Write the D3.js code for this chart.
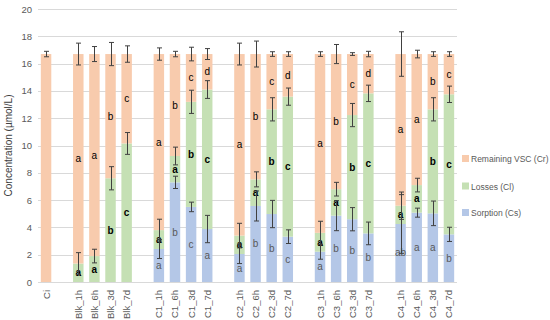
<!DOCTYPE html>
<html>
<head>
<meta charset="utf-8">
<script src="https://cdn.jsdelivr.net/npm/d3@7"></script>
<style>
  body { margin: 0; background: #fff; }
  text { font-family: "Liberation Sans", Arial, sans-serif; }
</style>
</head>
<body>
<svg id="chart" width="550" height="320"></svg>
<script>
// categories ("" = empty slot between groups)
const categories = ["Ci", "", "Blk_1h", "Blk_6h", "Blk_3d", "Blk_7d", "",
  "C1_1h", "C1_6h", "C1_3d", "C1_7d", "",
  "C2_1h", "C2_6h", "C2_3d", "C2_7d", "",
  "C3_1h", "C3_6h", "C3_3d", "C3_7d", "",
  "C4_1h", "C4_6h", "C4_3d", "C4_7d"];

// series values (µmol/L)
const sorption = [0, null, 0, 0, 0, 0, null,
  2.42, 7.3, 5.5, 3.88, null,
  2.05, 5.57, 4.98, 3.32, null,
  2.22, 4.86, 4.6, 3.56, null,
  4.25, 5.08, 5.03, 3.49];
const losses = [0, null, 1.35, 1.9, 7.6, 10.15, null,
  1.38, 1.93, 7.7, 10.22, null,
  1.35, 1.95, 7.67, 10.26, null,
  1.38, 1.94, 7.63, 10.26, null,
  1.34, 2.02, 7.62, 10.26];
const remaining = [16.7, null, 15.35, 14.8, 9.1, 6.55, null,
  12.9, 7.47, 3.5, 2.6, null,
  13.3, 9.18, 4.05, 3.12, null,
  13.1, 9.9, 4.47, 2.88, null,
  11.11, 9.6, 4.05, 2.95];

// error bars (±)
const errSorption = [0, null, 0, 0, 0, 0, null,
  0.7, 0.45, 0.35, 1.0, null,
  0.7, 1.1, 1.0, 0.5, null,
  0.55, 1.1, 0.85, 0.83, null,
  2.15, 0.33, 0.9, 0.52];
const errLosses = [0, null, 0.8, 0.5, 0.85, 0.8, null,
  0.8, 0.65, 0.85, 0.65, null,
  0.9, 0.55, 0.85, 0.63, null,
  0.85, 0.5, 0.85, 0.6, null,
  1.0, 0.5, 0.85, 0.6];
const errRemaining = [0.2, null, 0.8, 0.55, 0.85, 0.6, null,
  0.45, 0.2, 0.5, 0.4, null,
  0.8, 0.95, 0.17, 0.17, null,
  0.17, 0.7, 0.1, 0.2, null,
  1.63, 0.28, 0.17, 0.17];

// significance letters
const labSorption = ["", "", "", "", "", "", "",
  "a", "b", "c", "a", "",
  "a", "b", "b", "c", "",
  "a", "b", "b", "b", "",
  "ab", "a", "a", "b"];
const labLosses = ["", "", "a", "a", "b", "c", "",
  "a", "a", "b", "c", "",
  "a", "a", "b", "c", "",
  "a", "a", "b", "c", "",
  "a", "a", "b", "c"];
const labRemaining = ["", "", "a", "a", "b", "c", "",
  "a", "b", "c", "d", "",
  "a", "b", "c", "d", "",
  "a", "b", "c", "d", "",
  "a", "a", "b", "c"];

const yTicks = [0, 2, 4, 6, 8, 10, 12, 14, 16, 18, 20];

const seriesNames = ["Remaining VSC (Cr)", "Losses (Cl)", "Sorption (Cs)"];
const colors = { cs: "#b4c7e7", cl: "#c5e0b4", cr: "#f8cbad" };

const svg = d3.select("#chart");
const mLeft = 38, mRight = 457, mTop = 9, mBottom = 282;

const x = d3.scaleBand()
  .domain(d3.range(categories.length))
  .range([mLeft, mRight])
  .paddingInner(0.35)
  .paddingOuter(0.175);

const y = d3.scaleLinear().domain([0, 20]).range([mBottom, mTop]);

// gridlines
svg.append("g")
  .selectAll("line")
  .data(yTicks)
  .join("line")
  .attr("x1", mLeft).attr("x2", mRight)
  .attr("y1", d => Math.round(y(d)) + 0.5).attr("y2", d => Math.round(y(d)) + 0.5)
  .attr("stroke", "#d9d9d9").attr("stroke-width", 1);

// y tick labels
svg.append("g")
  .selectAll("text")
  .data(yTicks)
  .join("text")
  .attr("x", 32).attr("y", d => y(d) + 3.5)
  .attr("text-anchor", "end")
  .attr("font-size", 9.5)
  .attr("fill", "#595959")
  .text(d => d);

// y title
svg.append("text")
  .attr("transform", `translate(12,${(mTop + mBottom) / 2}) rotate(-90)`)
  .attr("text-anchor", "middle")
  .attr("font-size", 10)
  .attr("fill", "#404040")
  .text("Concentration (µmol/L)");

// rows of stacked data
const rows = categories.map((c, i) => ({
  i, c,
  cs: sorption[i], cl: losses[i], cr: remaining[i],
  ecs: errSorption[i], ecl: errLosses[i], ecr: errRemaining[i],
  lcs: labSorption[i], lcl: labLosses[i], lcr: labRemaining[i]
})).filter(d => d.c !== "");

rows.forEach(d => {
  d.y0 = 0;
  d.y1 = d.cs;
  d.y2 = d.cs + d.cl;
  d.y3 = d.cs + d.cl + d.cr;
});

const bars = svg.append("g");
const segs = [
  { k: "cs", a: "y0", b: "y1" },
  { k: "cl", a: "y1", b: "y2" },
  { k: "cr", a: "y2", b: "y3" }
];
segs.forEach(s => {
  bars.selectAll("rect." + s.k)
    .data(rows.filter(d => d[s.k] > 0))
    .join("rect")
    .attr("class", s.k)
    .attr("x", d => x(d.i))
    .attr("width", x.bandwidth())
    .attr("y", d => y(d[s.b]))
    .attr("height", d => y(d[s.a]) - y(d[s.b]))
    .attr("fill", colors[s.k]);
});

// letters
const labs = svg.append("g").attr("text-anchor", "middle").attr("font-size", 10);
labs.selectAll("text.lcs")
  .data(rows.filter(d => d.lcs))
  .join("text")
  .attr("class", "lcs")
  .attr("x", d => x(d.i) + x.bandwidth() / 2)
  .attr("y", d => y((d.y0 + d.y1) / 2) + 3.5)
  .attr("fill", "#595959")
  .text(d => d.lcs);
labs.selectAll("text.lcl")
  .data(rows.filter(d => d.lcl))
  .join("text")
  .attr("class", "lcl")
  .attr("x", d => x(d.i) + x.bandwidth() / 2)
  .attr("y", d => y((d.y1 + d.y2) / 2) + 3.5)
  .attr("fill", "#000")
  .attr("font-weight", "bold")
  .text(d => d.lcl);
labs.selectAll("text.lcr")
  .data(rows.filter(d => d.lcr))
  .join("text")
  .attr("class", "lcr")
  .attr("x", d => x(d.i) + x.bandwidth() / 2)
  .attr("y", d => y((d.y2 + d.y3) / 2) + 3.5)
  .attr("fill", "#000")
  .text(d => d.lcr);

// error bars
const errs = [];
rows.forEach(d => {
  if (d.ecs > 0) errs.push({ i: d.i, v: d.y1, e: d.ecs });
  if (d.ecl > 0) errs.push({ i: d.i, v: d.y2, e: d.ecl });
  if (d.ecr > 0) errs.push({ i: d.i, v: d.y3, e: d.ecr });
});
const eg = svg.append("g").attr("stroke", "#404040").attr("stroke-width", 1).attr("fill", "none");
const cap = 2.5;
errs.forEach(d => {
  const cx = Math.round(x(d.i) + x.bandwidth() / 2) + 0.5;
  const yt = y(d.v + d.e), yb = y(d.v - d.e);
  eg.append("path")
    .attr("d", `M${cx},${yt}V${yb}M${cx - cap},${yt}H${cx + cap}M${cx - cap},${yb}H${cx + cap}`);
});

// x labels
svg.append("g")
  .selectAll("text")
  .data(rows)
  .join("text")
  .attr("transform", d => `translate(${x(d.i) + x.bandwidth() / 2 + 3.5},290) rotate(-90)`)
  .attr("text-anchor", "end")
  .attr("font-size", 9.5)
  .attr("fill", "#595959")
  .text(d => d.c);

// legend
const lg = svg.append("g").attr("transform", "translate(462,0)");
const lgColors = [colors.cr, colors.cl, colors.cs];
const lgY = [159, 186.5, 213];
seriesNames.forEach((n, k) => {
  lg.append("rect").attr("x", 0).attr("y", lgY[k] - 4).attr("width", 7).attr("height", 7).attr("fill", lgColors[k]);
  lg.append("text").attr("x", 9).attr("y", lgY[k] + 3).attr("font-size", 8.5).attr("fill", "#595959").text(n);
});
</script>
</body>
</html>
